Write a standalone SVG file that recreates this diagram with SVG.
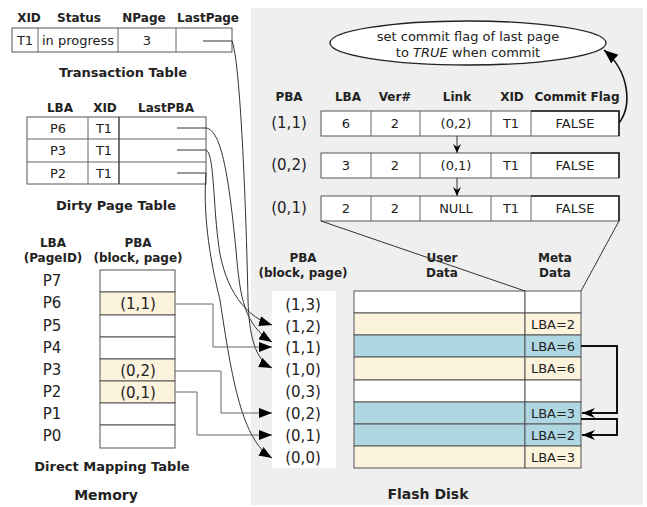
<svg xmlns="http://www.w3.org/2000/svg" width="647" height="507" viewBox="0 0 647 507">
<defs>
<marker id="ah" markerUnits="userSpaceOnUse" markerWidth="14" markerHeight="10" refX="13" refY="5" orient="auto"><path d="M0,0 L13,5 L0,10 Z" fill="#000"/></marker>
<marker id="ahs" markerUnits="userSpaceOnUse" markerWidth="10" markerHeight="10" refX="9" refY="4" orient="auto"><path d="M0,0 L9,4 L0,8 L3,4 Z" fill="#000"/></marker>
<marker id="ahm" markerUnits="userSpaceOnUse" markerWidth="14" markerHeight="12" refX="13" refY="5" orient="auto"><path d="M0,0 L13,5 L0,10 L4,5 Z" fill="#000"/></marker>
<marker id="ahc" markerUnits="userSpaceOnUse" markerWidth="16" markerHeight="12" refX="14" refY="5.5" orient="auto"><path d="M0,0 L14,5.5 L0,11 Z" fill="#000"/></marker>
</defs>
<style>
text{font-family:"DejaVu Sans","Liberation Sans",sans-serif;fill:#222}
.b{font-weight:bold;font-size:12px}
.cap{font-weight:bold;font-size:13px}
.n{font-size:13px}
.l{font-size:15px}
.c{text-anchor:middle}
.cell{fill:#fff;stroke:#555;stroke-width:1}
.cr{fill:#fcf3dd;stroke:#555;stroke-width:1}
.bl{fill:#aed7e2;stroke:#555;stroke-width:1}
.ln{fill:none;stroke:#333;stroke-width:1}
.lg{fill:none;stroke:#666;stroke-width:1}
</style>
<rect x="251" y="8" width="392" height="497" fill="#efefef"/>

<g id="transaction-table">
<text class="b c" x="29" y="22">XID</text>
<text class="b c" x="79" y="22">Status</text>
<text class="b c" x="144" y="22">NPage</text>
<text class="b c" x="208" y="22">LastPage</text>
<rect class="cell" x="12" y="28" width="220" height="24"/>
<line class="lg" x1="38" y1="28" x2="38" y2="52"/>
<line class="lg" x1="118" y1="28" x2="118" y2="52"/>
<line class="lg" x1="176" y1="28" x2="176" y2="52"/>
<text class="n c" x="25" y="45">T1</text>
<text class="n c" x="78" y="45">in progress</text>
<text class="n c" x="147" y="45">3</text>
<text class="cap c" x="123" y="77">Transaction Table</text>
</g>

<g id="dirty-page-table">
<text class="b c" x="60" y="112">LBA</text>
<text class="b c" x="105" y="112">XID</text>
<text class="b c" x="166" y="112">LastPBA</text>
<rect class="cell" x="27" y="117" width="179" height="67"/>
<line class="lg" x1="27" y1="139" x2="206" y2="139"/>
<line class="lg" x1="27" y1="162" x2="206" y2="162"/>
<line class="lg" x1="88" y1="117" x2="88" y2="184"/>
<line x1="119" y1="117" x2="119" y2="184" stroke="#444" stroke-width="1.5"/>
<text class="n c" x="58" y="133">P6</text>
<text class="n c" x="104" y="133">T1</text>
<text class="n c" x="58" y="155">P3</text>
<text class="n c" x="104" y="155">T1</text>
<text class="n c" x="58" y="178">P2</text>
<text class="n c" x="104" y="178">T1</text>
<text class="cap c" x="116" y="210">Dirty Page Table</text>
</g>

<g id="direct-mapping-table">
<text class="b c" x="53" y="247">LBA</text>
<text class="b c" x="53" y="262">(PageID)</text>
<text class="b c" x="138" y="247">PBA</text>
<text class="b c" x="138" y="262">(block, page)</text>
<rect class="cell" x="100" y="270" width="75" height="22"/>
<rect class="cr" x="100" y="292" width="75" height="23"/>
<rect class="cell" x="100" y="315" width="75" height="22"/>
<rect class="cell" x="100" y="337" width="75" height="22"/>
<rect class="cr" x="100" y="359" width="75" height="22"/>
<rect class="cr" x="100" y="381" width="75" height="22"/>
<rect class="cell" x="100" y="403" width="75" height="22"/>
<rect class="cell" x="100" y="425" width="75" height="23"/>
<text class="l c" x="52" y="286">P7</text>
<text class="l c" x="52" y="308">P6</text>
<text class="l c" x="52" y="331">P5</text>
<text class="l c" x="52" y="353">P4</text>
<text class="l c" x="52" y="375">P3</text>
<text class="l c" x="52" y="397">P2</text>
<text class="l c" x="52" y="419">P1</text>
<text class="l c" x="52" y="441">P0</text>
<text class="l c" x="138" y="309">(1,1)</text>
<text class="l c" x="138" y="376">(0,2)</text>
<text class="l c" x="138" y="398">(0,1)</text>
<text class="cap c" x="112" y="471">Direct Mapping Table</text>
<text class="b c" x="106" y="500" style="font-size:14px">Memory</text>
</g>

<g id="version-table">
<text class="b c" x="289" y="101">PBA</text>
<text class="b c" x="348" y="101">LBA</text>
<text class="b c" x="395" y="101">Ver#</text>
<text class="b c" x="457" y="101">Link</text>
<text class="b c" x="512" y="101">XID</text>
<text class="b c" x="577" y="101">Commit Flag</text>
<g id="vrow1">
<rect class="cell" x="321" y="111" width="298" height="25"/>
<line class="lg" x1="371" y1="111" x2="371" y2="136"/><line class="lg" x1="420" y1="111" x2="420" y2="136"/><line class="lg" x1="491" y1="111" x2="491" y2="136"/><line class="lg" x1="531" y1="111" x2="531" y2="136"/>
<path d="M531,111 H619 V136" fill="none" stroke="#222" stroke-width="1.6"/>
<text class="l c" x="289" y="128">(1,1)</text>
<text class="n c" x="346" y="128">6</text><text class="n c" x="395" y="128">2</text><text class="n c" x="456" y="128">(0,2)</text><text class="n c" x="511" y="128">T1</text><text class="n c" x="575" y="128">FALSE</text>
</g>
<g id="vrow2">
<rect class="cell" x="321" y="153" width="298" height="25"/>
<line class="lg" x1="371" y1="153" x2="371" y2="178"/><line class="lg" x1="420" y1="153" x2="420" y2="178"/><line class="lg" x1="491" y1="153" x2="491" y2="178"/><line class="lg" x1="531" y1="153" x2="531" y2="178"/>
<path d="M531,153 H619 V178" fill="none" stroke="#222" stroke-width="1.6"/>
<text class="l c" x="289" y="170">(0,2)</text>
<text class="n c" x="346" y="170">3</text><text class="n c" x="395" y="170">2</text><text class="n c" x="456" y="170">(0,1)</text><text class="n c" x="511" y="170">T1</text><text class="n c" x="575" y="170">FALSE</text>
</g>
<g id="vrow3">
<rect class="cell" x="321" y="196" width="298" height="25"/>
<line class="lg" x1="371" y1="196" x2="371" y2="221"/><line class="lg" x1="420" y1="196" x2="420" y2="221"/><line class="lg" x1="491" y1="196" x2="491" y2="221"/><line class="lg" x1="531" y1="196" x2="531" y2="221"/>
<path d="M531,196 H619 V221" fill="none" stroke="#222" stroke-width="1.6"/>
<text class="l c" x="289" y="213">(0,1)</text>
<text class="n c" x="346" y="213">2</text><text class="n c" x="395" y="213">2</text><text class="n c" x="456" y="213">NULL</text><text class="n c" x="511" y="213">T1</text><text class="n c" x="575" y="213">FALSE</text>
</g>
</g>

<g id="note">
<ellipse cx="468" cy="43" rx="138" ry="22" fill="#fff" stroke="#222" stroke-width="1.3"/>
<text class="n c" x="468" y="41">set commit flag of last page</text>
<text class="n c" x="468" y="57">to <tspan font-style="italic">TRUE</tspan> when commit</text>
</g>

<g id="flash-pba">
<text class="b c" x="303" y="262">PBA</text>
<text class="b c" x="303" y="277">(block, page)</text>
<rect x="272" y="291" width="64" height="177" fill="#fff"/>
<text class="l c" x="303" y="310">(1,3)</text>
<text class="l c" x="303" y="332">(1,2)</text>
<text class="l c" x="303" y="353">(1,1)</text>
<text class="l c" x="303" y="375">(1,0)</text>
<text class="l c" x="303" y="397">(0,3)</text>
<text class="l c" x="303" y="419">(0,2)</text>
<text class="l c" x="303" y="441">(0,1)</text>
<text class="l c" x="303" y="463">(0,0)</text>
</g>

<g id="flash-block">
<text class="b c" x="442" y="262">User</text>
<text class="b c" x="442" y="277">Data</text>
<text class="b c" x="555" y="262">Meta</text>
<text class="b c" x="555" y="277">Data</text>
<rect class="cell" x="354" y="291" width="171" height="22"/><rect class="cell" x="525" y="291" width="56" height="22"/>
<rect class="cr" x="354" y="313" width="171" height="22"/><rect class="cr" x="525" y="313" width="56" height="22"/>
<rect class="bl" x="354" y="335" width="171" height="22"/><rect class="bl" x="525" y="335" width="56" height="22"/>
<rect class="cr" x="354" y="357" width="171" height="23"/><rect class="cr" x="525" y="357" width="56" height="23"/>
<rect class="cell" x="354" y="380" width="171" height="22"/><rect class="cell" x="525" y="380" width="56" height="22"/>
<rect class="bl" x="354" y="402" width="171" height="22"/><rect class="bl" x="525" y="402" width="56" height="22"/>
<rect class="bl" x="354" y="424" width="171" height="22"/><rect class="bl" x="525" y="424" width="56" height="22"/>
<rect class="cr" x="354" y="446" width="171" height="22"/><rect class="cr" x="525" y="446" width="56" height="22"/>
<text class="n c" x="553" y="329">LBA=2</text>
<text class="n c" x="553" y="351">LBA=6</text>
<text class="n c" x="553" y="373">LBA=6</text>
<text class="n c" x="553" y="418">LBA=3</text>
<text class="n c" x="553" y="440">LBA=2</text>
<text class="n c" x="553" y="462">LBA=3</text>
<text class="b c" x="428" y="499" style="font-size:14px">Flash Disk</text>
</g>

<g id="connectors">
<path class="ln" d="M203,41 H232 C240,60 246,200 248,300 C249,335 255,360 272,368" marker-end="url(#ah)"/>
<path class="ln" d="M177,128 H206 C222,130 229,180 236,250 C240,300 245,325 272,342" marker-end="url(#ah)"/>
<path class="ln" d="M177,150 H206 C214,153 213,200 218,240 C222,280 240,315 272,325" marker-end="url(#ah)"/>
<path class="ln" d="M177,173 H206 C204,200 205,240 220,300 C232,380 242,440 272,458" marker-end="url(#ah)"/>
<path class="lg" d="M175,304 H213 V347 H272" marker-end="url(#ah)"/>
<path class="lg" d="M175,371 H221 V413 H272" marker-end="url(#ah)"/>
<path class="lg" d="M175,392 H197 V435 H272" marker-end="url(#ah)"/>
<line class="ln" x1="457" y1="136" x2="457" y2="153" marker-end="url(#ahs)"/>
<line class="ln" x1="457" y1="178" x2="457" y2="196" marker-end="url(#ahs)"/>
<path d="M619,123 C632,106 630,72 604,50" fill="none" stroke="#111" stroke-width="1.6" marker-end="url(#ahc)"/>
<line class="ln" x1="321" y1="221" x2="525" y2="291"/>
<line class="ln" x1="619" y1="221" x2="581" y2="291"/>
<path d="M581,346 H617 V413 H582" fill="none" stroke="#111" stroke-width="2" marker-end="url(#ahm)"/>
<path d="M581,419 H617 V435 H582" fill="none" stroke="#111" stroke-width="2" marker-end="url(#ahm)"/>
</g>
</svg>
